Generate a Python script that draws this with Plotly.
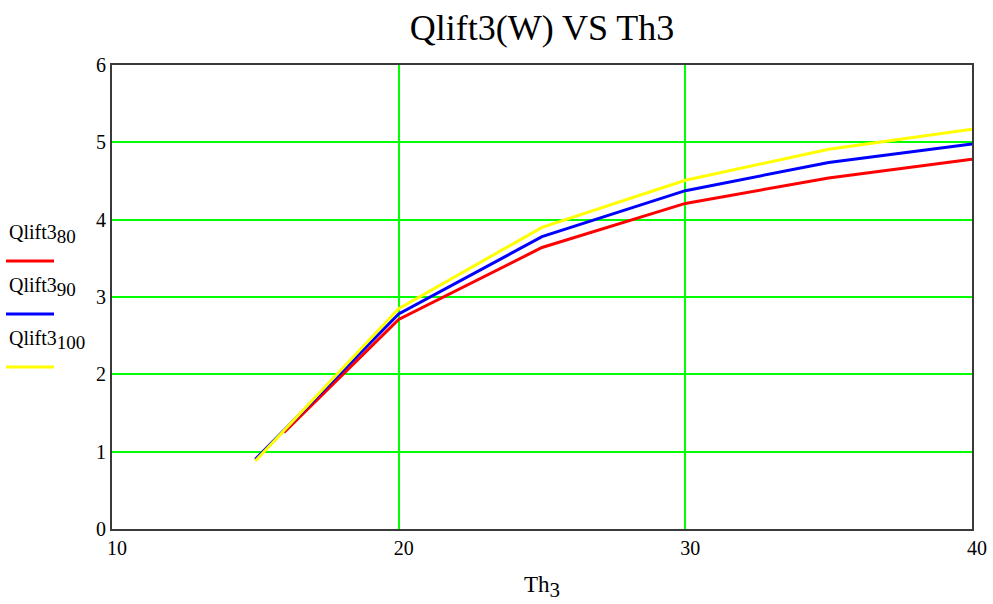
import plotly.graph_objects as go

# Th3 sample points and lift heat for the three cases
th3_80 = [16, 20, 25, 30, 35, 40]
q_80 = [1.25, 2.71, 3.64, 4.21, 4.54, 4.78]

th3_90 = [15, 20, 25, 30, 35, 40]
q_90 = [0.90, 2.78, 3.78, 4.375, 4.74, 4.98]

th3_100 = [15, 20, 25, 30, 35, 40]
q_100 = [0.88, 2.85, 3.90, 4.51, 4.91, 5.17]

x_ticks = [10, 20, 30, 40]
y_ticks = [0, 1, 2, 3, 4, 5, 6]

SERIF = "Liberation Serif, Times New Roman, serif"
W, H = 993, 604
L, R, T, B = 112, 21, 65, 75
PW, PH = W - L - R, H - T - B


def px(x):
    return (x - L) / PW


def py(y):
    return (H - B - y) / PH


def big_sub(base, sub, size):
    # subscript kept close to full size, as in Mathcad-style labels
    return f"{base}<sub><span style='font-size:{size}px'>{sub}</span></sub>"


fig = go.Figure()
fig.add_trace(go.Scatter(x=th3_80, y=q_80, mode="lines",
                         line=dict(color="#ff0000", width=3), showlegend=False))
fig.add_trace(go.Scatter(x=th3_90, y=q_90, mode="lines",
                         line=dict(color="#0000ff", width=3), showlegend=False))
fig.add_trace(go.Scatter(x=th3_100, y=q_100, mode="lines",
                         line=dict(color="#ffff00", width=3), showlegend=False))

# Hand-built legend at the left edge: label above a short colour bar
legend_items = [
    (big_sub("Qlift3", "80", 19), "#ff0000", 234, 261),
    (big_sub("Qlift3", "90", 19), "#0000ff", 287, 314),
    (big_sub("Qlift3", "100", 19), "#ffff00", 340, 367),
]
annotations = []
shapes = []
for text, color, ty, ly in legend_items:
    annotations.append(dict(text=text, xref="paper", yref="paper",
                            x=px(7), y=py(ty), xanchor="left", yanchor="middle",
                            showarrow=False, font=dict(family=SERIF, size=20, color="black")))
    shapes.append(dict(type="line", xref="paper", yref="paper",
                       x0=px(6), x1=px(54), y0=py(ly), y1=py(ly),
                       line=dict(color=color, width=3)))

fig.update_layout(
    width=W, height=H,
    margin=dict(l=L, r=R, t=T, b=B, autoexpand=False),
    paper_bgcolor="white", plot_bgcolor="white",
    title=dict(text="Qlift3(W) VS Th3", x=(L + PW / 2) / W, xanchor="center",
               y=1 - 27 / H, yanchor="middle",
               font=dict(family=SERIF, size=36, color="black")),
    xaxis=dict(range=[10, 40], tickvals=x_ticks, ticks="",
               showgrid=True, gridcolor="#00ff00", gridwidth=1.5,
               showline=True, linecolor="#3a3a3a", linewidth=2, mirror=True,
               zeroline=False, ticklabelshift=5, automargin=False,
               tickfont=dict(family=SERIF, size=20, color="black"),
               title=dict(text=big_sub("Th", "3", 21), standoff=18,
                          font=dict(family=SERIF, size=23, color="black"))),
    yaxis=dict(range=[0, 6], tickvals=y_ticks, ticks="",
               showgrid=True, gridcolor="#00ff00", gridwidth=1.5,
               showline=True, linecolor="#3a3a3a", linewidth=2, mirror=True,
               zeroline=False, automargin=False,
               tickfont=dict(family=SERIF, size=20, color="black")),
    annotations=annotations,
    shapes=shapes,
)

fig.write_html("out.html")
